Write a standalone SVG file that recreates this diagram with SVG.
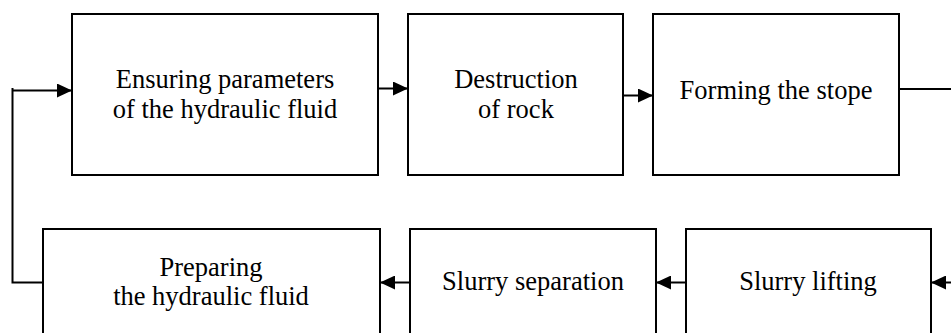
<svg xmlns="http://www.w3.org/2000/svg" width="951" height="333" viewBox="0 0 951 333">
<style>
.box{fill:#fff;stroke:#000;stroke-width:2}
.t{font-family:"Liberation Serif","Times New Roman",serif;font-size:26.5px;fill:#000;text-anchor:middle}
.c{fill:none;stroke:#000;stroke-width:2}
</style>
<defs>
<marker id="ah" markerUnits="userSpaceOnUse" markerWidth="15" markerHeight="14" refX="15" refY="7" orient="auto">
<path d="M0,0 L15,7 L0,14 Z" fill="#000"/>
</marker>
</defs>
<rect width="951" height="333" fill="#fff"/>
<g id="n1"><rect class="box" x="72" y="14" width="306" height="161"/>
<text class="t" x="225" y="88">Ensuring parameters</text><text class="t" x="225" y="118">of the hydraulic fluid</text></g>
<g id="n2"><rect class="box" x="408" y="14" width="215" height="161"/>
<text class="t" x="516" y="88">Destruction</text><text class="t" x="516" y="118">of rock</text></g>
<g id="n3"><rect class="box" x="653" y="14" width="246" height="161"/>
<text class="t" x="776" y="99">Forming the stope</text></g>
<g id="n4"><rect class="box" x="43" y="229" width="337" height="120"/>
<text class="t" x="211" y="276">Preparing</text><text class="t" x="211" y="305">the hydraulic fluid</text></g>
<g id="n5"><rect class="box" x="410" y="229" width="246" height="120"/>
<text class="t" x="533" y="290">Slurry separation</text></g>
<g id="n6"><rect class="box" x="686" y="229" width="245" height="120"/>
<text class="t" x="808" y="290">Slurry lifting</text></g>
<g id="connectors">
<path class="c" d="M378,88.5 H408" marker-end="url(#ah)"/>
<path class="c" d="M623,95.5 H653" marker-end="url(#ah)"/>
<path class="c" d="M899,89 H951"/>
<path class="c" d="M951,282.5 H931" marker-end="url(#ah)"/>
<path class="c" d="M686,282.5 H656" marker-end="url(#ah)"/>
<path class="c" d="M410,282.5 H380" marker-end="url(#ah)"/>
<path class="c" d="M43,282.5 H12.5 V88" />
<path class="c" d="M12.5,90.5 H72" marker-end="url(#ah)"/>
</g>
</svg>
